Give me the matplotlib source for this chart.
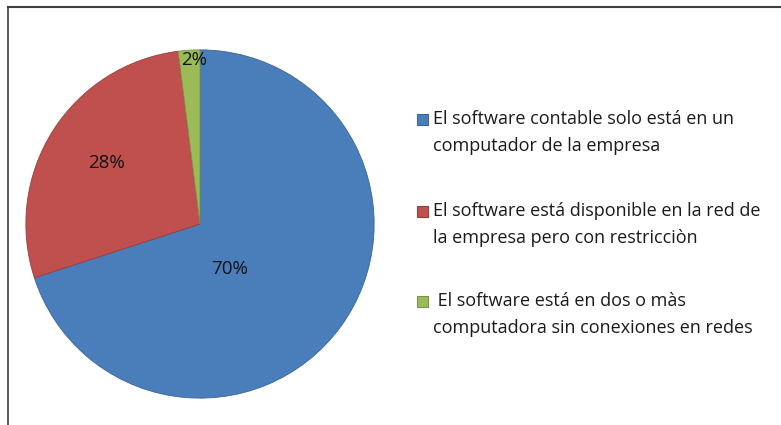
import matplotlib.pyplot as plt
from matplotlib.patches import Rectangle
from matplotlib.lines import Line2D
import numpy as np

# Data
labels = ["El software contable solo está en un\ncomputador de la empresa",
          "El software está disponible en la red de\nla empresa pero con restricciòn",
          " El software está en dos o màs\ncomputadora sin conexiones en redes"]
values = [70, 28, 2]
colors = ["#4A7EBB", "#C0504D", "#9BBB59"]
edge_colors = ["#3A6396", "#9A3D3B", "#7A9446"]
# where Excel put each percent label (fraction of radius)
label_dist = [0.31, 0.64, 0.94]
label_angle = [-57, 147, 92]

W, H = 781, 425
fig = plt.figure(figsize=(W / 100, H / 100), dpi=100)
plt.rcParams['font.family'] = ['Open Sans', 'DejaVu Sans']

# pie area: center (200, 224) px, radius 175 px
cx, cy, r = 200, 224, 175
ax = fig.add_axes([(cx - r) / W, (H - cy - r) / H, 2 * r / W, 2 * r / H])
wedges, texts, autotexts = ax.pie(values, colors=colors, startangle=90, counterclock=False,
                                  autopct='%1.0f%%', radius=1,
                                  wedgeprops=dict(linewidth=0.6, edgecolor="none"),
                                  textprops=dict(fontsize=13.5, color="#111111"))
for w, ec in zip(wedges, edge_colors):
    w.set_edgecolor(ec)
for t, d, a in zip(autotexts, label_dist, label_angle):
    t.set_position((d * np.cos(np.radians(a)), d * np.sin(np.radians(a))))
ax.set_xlim(-1.005, 1.005)
ax.set_ylim(-1.005, 1.005)
ax.axis('off')

# legend drawn by hand (Excel style: marker on first line, wrapped text)
leg_y = [119, 211, 301]
line_gap = 27
for lab, col, ec, y in zip(labels, colors, edge_colors, leg_y):
    fig.patches.append(Rectangle((417 / W, (H - y - 5.5) / H), 11 / W, 11 / H,
                                 facecolor=col, edgecolor=ec, linewidth=0.8,
                                 transform=fig.transFigure))
    for i, line in enumerate(lab.split("\n")):
        fig.text(433 / W, (H - y - i * line_gap) / H, line, fontsize=13,
                 va='center', ha='left', color="#1a1a1a")

# chart border (top and left visible)
fig.add_artist(Line2D([8 / W, 1], [1 - 7 / H, 1 - 7 / H], color="#404040", lw=1.5,
                      transform=fig.transFigure))
fig.add_artist(Line2D([8 / W, 8 / W], [0, 1 - 7 / H], color="#404040", lw=1.2,
                      transform=fig.transFigure))

fig.savefig("out.png", dpi=100, facecolor="white")
